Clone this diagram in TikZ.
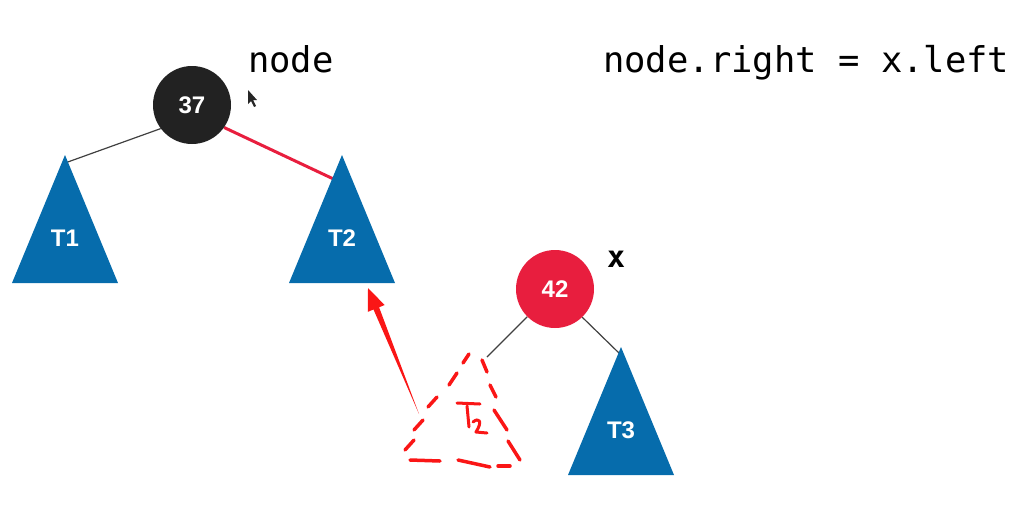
\documentclass[tikz,border=0pt]{standalone}
\usepackage{fontspec}
\setmainfont{Liberation Sans}
\newfontfamily\codefont{DejaVu Sans Mono}
\usetikzlibrary{positioning,backgrounds}
\definecolor{keyblack}{RGB}{34,34,34}
\definecolor{keyred}{RGB}{232,30,62}
\definecolor{treeblue}{RGB}{6,108,172}
\definecolor{inkred}{RGB}{250,22,22}

\begin{document}
\begin{tikzpicture}[x=1pt, y=-1pt,
    keynode/.style={circle, minimum size=78pt, inner sep=0pt, text=white,
      font=\fontsize{24}{24}\selectfont\bfseries},
    treelabel/.style={text=white, inner sep=0pt, font=\fontsize{24}{24}\selectfont\bfseries},
    link/.style={line width=1.2pt, draw=black!75},
    redlink/.style={line width=3pt, draw=keyred},
    code/.style={anchor=base west, inner sep=0pt, text=black,
      font=\codefont\fontsize{35.5}{36}\selectfont},
    ink/.style={inkred, line width=3.5pt, line cap=round, line join=round}]
  % A blue subtree: #1 = name, #2 = apex; (#1-top) is the apex, (#1) the label.
  \newcommand{\subtreetri}[3]{%
    \coordinate (#1-top) at (#2);
    \fill[treeblue] (#1-top) -- ++(53,128) -- ++(-106,0) -- cycle;
    \path (#1-top) ++(0,83) node[treelabel] (#1) {#3};}

  \useasboundingbox (0,0) rectangle (1024,504);

  % the old tree: node with T1 and T2
  \node[keynode, fill=keyblack] (n37) at (192,105) {37};
  \node[code] (nodename) at (248,72) {node};
  \subtreetri{T1}{65,155}{T1}
  \subtreetri{T2}{342,155}{T2}

  % the new tree: x with the moved subtree and T3
  \node[keynode, fill=keyred] (n42) at (555,289) {42};
  \node[code, font=\codefont\bfseries\fontsize{30}{30}\selectfont] (xname) at (607,267) {x};
  \subtreetri{T3}{621,347}{T3}
  \coordinate (gap-top) at (487,357);

  \node[code] (rule) at (603,72) {node.right = x.left};

  \begin{scope}[on background layer]
    \draw[link] (n37.217) -- ([yshift=-8pt]T1-top);
    \draw[redlink] (n37.-35) -- ([yshift=-28pt]T2-top);
    \draw[link] (n42.225) -- (gap-top);
    \draw[link] (n42.-46) -- ([yshift=-8pt]T3-top);
  \end{scope}

  % hand-drawn dashed subtree under x
  \foreach \a/\b in {{469,354}/{463,363}, {457,373}/{449,385}, {437,397}/{428,407},
      {423,420}/{414,430}, {414,440}/{405,450}, {410,460}/{440,461},
      {458,460}/{490,467}, {498,466}/{510,466}, {482,360}/{487,372},
      {490,385}/{496,397}, {494,410}/{507,430}, {508,441}/{520,460}}
    \draw[ink] (\a) -- (\b);
  \draw[ink, line width=3pt] (457,403) -- (480,404);
  \draw[ink, line width=3pt] (467,406) -- (469,427);
  \draw[ink, line width=3pt] (473,422) .. controls (479,417) and (483,421) .. (476,432) -- (487,433);

  % arrow from the dashed subtree up to T2
  \coordinate (arrowtip) at (368,288);
  \coordinate (arrowtail) at (419,414);
  \fill[inkred] (arrowtail) -- (379.1,307.3) -- (384.6,305.0) -- (arrowtip)
    -- (367.9,311.8) -- (373.5,309.5) -- cycle;

  % mouse pointer
  \fill[black!85] (248,90) -- (248,104) -- (251,101) -- (254,107) -- (256,106)
    -- (253,100) -- (257,100) -- cycle;
\end{tikzpicture}
\end{document}
